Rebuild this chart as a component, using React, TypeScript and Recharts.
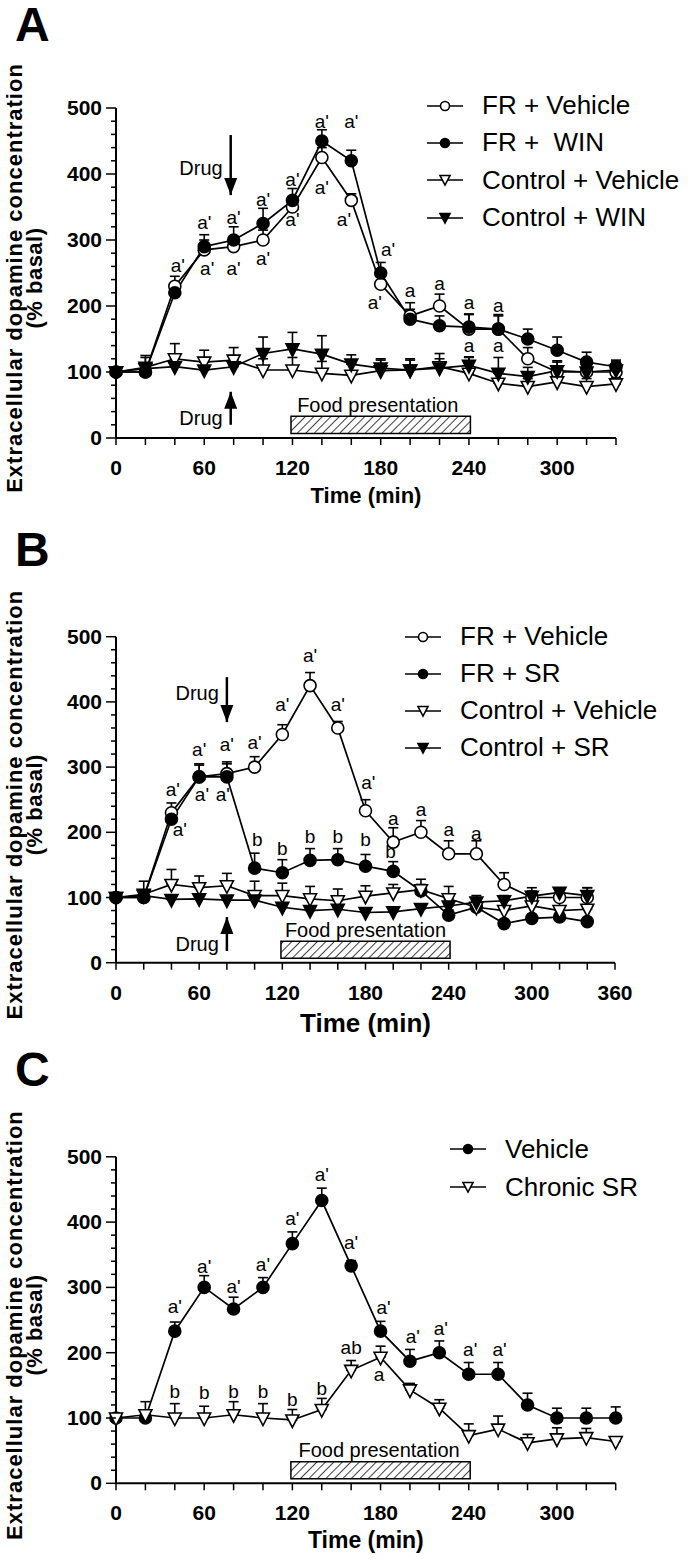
import React from 'react';
import {
  LineChart,
  Line,
  XAxis,
  YAxis,
  ErrorBar,
  ReferenceArea,
  ReferenceDot,
  ReferenceLine,
  Legend,
} from 'recharts';

const FONT = 'Arial, "Liberation Sans", Helvetica, sans-serif';

// sampling times (min)
const TIMES = [0, 20, 40, 60, 80, 100, 120, 140, 160, 180, 200, 220, 240, 260, 280, 300, 320, 340];
const X_TICKS_340 = [0, 20, 40, 60, 80, 100, 120, 140, 160, 180, 200, 220, 240, 260, 280, 300, 320, 340];
const X_TICKS_360 = [0, 20, 40, 60, 80, 100, 120, 140, 160, 180, 200, 220, 240, 260, 280, 300, 320, 340, 360];
const Y_TICKS = [0, 20, 40, 60, 80, 100, 120, 140, 160, 180, 200, 220, 240, 260, 280, 300, 320, 340, 360, 380, 400, 420, 440, 460, 480, 500];

// ---- panel A ----
const A_FR_VEH = [100, 100, 230, 285, 290, 300, 350, 425, 360, 233, 185, 200, 165, 165, 120, 100, 100, 100];
const A_FR_VEH_SEM = [4, 5, 15, 15, 15, 15, 15, 15, 10, 17, 20, 18, 22, 20, 17, 15, 10, 15];
const A_FR_WIN = [100, 100, 220, 290, 300, 325, 360, 450, 420, 250, 180, 170, 168, 165, 150, 133, 115, 108];
const A_FR_WIN_SEM = [5, 8, 10, 18, 20, 23, 18, 17, 16, 16, 15, 15, 20, 22, 15, 20, 15, 10];
const A_CTL_VEH = [100, 107, 120, 115, 118, 103, 103, 98, 95, 102, 103, 108, 98, 83, 78, 85, 78, 82];
const A_CTL_VEH_SEM = [5, 18, 23, 18, 19, 17, 19, 18, 17, 16, 17, 20, 24, 15, 12, 15, 12, 10];
const A_CTL_WIN = [100, 105, 108, 103, 108, 128, 135, 127, 112, 106, 103, 106, 110, 98, 93, 102, 100, 103];
const A_CTL_WIN_SEM = [5, 17, 12, 12, 12, 25, 25, 28, 14, 14, 15, 14, 13, 24, 14, 15, 10, 12];

const A_NOTES: [number, number, string][] = [
  [42, 261, "a'"], [60, 326, "a'"], [80, 333, "a'"], [100, 360, "a'"], [120, 391, "a'"],
  [140, 479, "a'"], [160, 479, "a'"], [62, 256, "a'"], [80, 256, "a'"], [100, 271, "a'"],
  [120, 330, "a'"], [140, 379, "a'"], [155, 330, "a'"], [185, 285, "a'"], [176, 205, "a'"],
  [200, 223, 'a'], [220, 233, 'a'], [240, 205, 'a'], [260, 200, 'a'], [240, 140, 'a'], [260, 140, 'a'],
];

// ---- panel B ----
const B_FR_VEH = [100, 100, 230, 285, 290, 300, 350, 425, 360, 233, 185, 200, 167, 167, 120, 100, 100, 100];
const B_FR_VEH_SEM = [4, 5, 15, 18, 18, 16, 15, 20, 10, 17, 22, 18, 20, 20, 18, 15, 12, 15];
const B_FR_SR = [100, 100, 220, 285, 285, 145, 138, 157, 158, 148, 140, 110, 73, 85, 60, 68, 70, 63];
const B_FR_SR_SEM = [5, 8, 12, 20, 20, 23, 20, 18, 17, 18, 15, 10, 8, 8, 6, 6, 6, 6];
const B_CTL_VEH = [100, 105, 120, 115, 118, 103, 103, 98, 95, 102, 107, 112, 98, 85, 80, 87, 80, 82];
const B_CTL_VEH_SEM = [5, 20, 23, 18, 19, 22, 19, 19, 18, 16, 13, 16, 19, 15, 20, 20, 18, 25];
const B_CTL_SR = [100, 103, 97, 98, 96, 96, 85, 80, 82, 77, 78, 83, 87, 93, 95, 102, 108, 103];
const B_CTL_SR_SEM = [4, 5, 5, 5, 5, 5, 5, 5, 5, 5, 5, 5, 8, 10, 8, 8, 6, 12];

const B_NOTES: [number, number, string][] = [
  [41, 265, "a'"], [46, 204, "a'"], [60, 326, "a'"], [62, 257, "a'"], [77, 257, "a'"],
  [80, 334, "a'"], [100, 337, "a'"], [120, 395, "a'"], [140, 470, "a'"], [160, 395, "a'"],
  [182, 275, "a'"], [200, 221, 'a'], [220, 234, 'a'], [240, 204, 'a'], [260, 198, 'a'],
  [102, 188, 'b'], [120, 175, 'b'], [140, 193, 'b'], [160, 193, 'b'], [180, 188, 'b'], [198, 170, 'b'],
];

// ---- panel C ----
const C_VEH = [100, 100, 233, 300, 267, 300, 367, 433, 333, 233, 187, 200, 167, 167, 120, 100, 100, 100];
const C_VEH_SEM = [4, 8, 14, 18, 18, 15, 18, 19, 8, 15, 18, 18, 18, 18, 18, 15, 15, 17];
const C_CHRONIC_SR = [100, 105, 100, 100, 105, 100, 97, 113, 173, 193, 143, 115, 73, 83, 62, 68, 70, 64];
const C_CHRONIC_SR_SEM = [4, 20, 22, 18, 20, 22, 16, 17, 15, 17, 10, 13, 18, 20, 13, 17, 14, 6];

const C_NOTES: [number, number, string][] = [
  [40, 270, "a'"], [60, 332, "a'"], [80, 301, "a'"], [100, 335, "a'"], [120, 404, "a'"],
  [140, 472, "a'"], [160, 368, "a'"], [182, 268, "a'"], [202, 224, "a'"], [221, 237, "a'"],
  [241, 204, "a'"], [261, 204, "a'"], [160, 207, 'ab'], [179, 166, 'a'],
  [40, 140, 'b'], [60, 138, 'b'], [80, 140, 'b'], [100, 140, 'b'], [120, 128, 'b'], [140, 145, 'b'],
];

type Series = {
  key: string;
  name: string;
  values: number[];
  sem: number[];
  shape: 'circle' | 'tri';
  filled: boolean;
};

type Arrow = { t: number; tip: number; tail: number; textV: number; down: boolean };

const buildRows = (series: Series[]) =>
  TIMES.map((t, i) => {
    const row: any = { t };
    series.forEach((s) => {
      row[s.key] = s.values[i];
      row[s.key + 'Err'] = [0, s.sem[i]];
    });
    return row;
  });

const Marker = ({ cx, cy, shape, filled, size }: any) => {
  const fill = filled ? '#000' : '#fff';
  if (shape === 'circle') {
    return <circle cx={cx} cy={cy} r={size} fill={fill} stroke="#000" strokeWidth={1.6} />;
  }
  const pts = `${cx - size - 0.5},${cy - size + 1} ${cx + size + 0.5},${cy - size + 1} ${cx},${cy + size + 1.5}`;
  return <polygon points={pts} fill={fill} stroke="#000" strokeWidth={1.6} strokeLinejoin="miter" />;
};

const makeDot = (s: Series) => (p: any) => {
  const { cx, cy, index } = p;
  if (cx == null || cy == null) return <g key={`d${index}`} />;
  return (
    <g key={`d${index}`}>
      <Marker cx={cx} cy={cy} shape={s.shape} filled={s.filled} size={6} />
    </g>
  );
};

const YTick = (props: any) => {
  const { x, y, payload } = props;
  const major = payload.value % 100 === 0;
  return (
    <g>
      <line x1={x - (major ? 10 : 5)} x2={x} y1={y} y2={y} stroke="#000" strokeWidth={1.5} />
      {major && (
        <text x={x - 14} y={y + 7} textAnchor="end" fontSize={21} fontWeight="bold" fontFamily={FONT} fill="#000">
          {payload.value}
        </text>
      )}
    </g>
  );
};

const XTick = (props: any) => {
  const { x, y, payload } = props;
  const major = payload.value % 60 === 0;
  return (
    <g>
      <line x1={x} x2={x} y1={y} y2={y + 7} stroke="#000" strokeWidth={1.5} />
      {major && (
        <text x={x} y={y + 37} textAnchor="middle" fontSize={21} fontWeight="bold" fontFamily={FONT} fill="#000">
          {payload.value}
        </text>
      )}
    </g>
  );
};

const LegendBox = ({ items, rowH }: { items: Series[]; rowH: number }) => (
  <div style={{ fontFamily: FONT, fontSize: 26, color: '#000' }}>
    {items.map((s) => (
      <div key={s.key} style={{ display: 'flex', alignItems: 'center', height: rowH, whiteSpace: 'pre' }}>
        <svg width={36} height={16} style={{ marginRight: 19, overflow: 'visible' }}>
          <line x1={0} x2={36} y1={8} y2={8} stroke="#000" strokeWidth={1.5} />
          <Marker cx={18} cy={s.shape === 'tri' ? 7 : 8} shape={s.shape} filled={s.filled} size={4.5} />
        </svg>
        <span>{s.name}</span>
      </div>
    ))}
  </div>
);

type PanelProps = {
  letter: string;
  top: number;
  plotTop: number;
  plotBottom: number;
  right: number;
  xMax: number;
  xTicks: number[];
  series: Series[];
  notes: [number, number, string][];
  arrows: Arrow[];
  foodText: number;
  foodV: number;
  legendLeft: number;
  legendTop: number;
  rowH: number;
  titleSize: number;
  titleOffset: number;
};

const H = 520;
const AXIS_H = 60;

function Panel(props: PanelProps) {
  const { letter, top, plotTop, plotBottom, right, xMax, xTicks, series, notes, arrows } = props;
  const rows = buildRows(series);
  return (
    <div style={{ position: 'absolute', left: 0, top, width: 694, height: H }}>
      <div
        style={{
          position: 'absolute',
          left: 15,
          top: letter === 'A' ? 1 : 6,
          fontFamily: FONT,
          fontWeight: 'bold',
          fontSize: 48,
          lineHeight: '48px',
        }}
      >
        {letter}
      </div>
      <LineChart
        width={694}
        height={H}
        data={rows}
        margin={{ top: plotTop, right, bottom: H - plotBottom - AXIS_H, left: 0 }}
      >
        <XAxis
          type="number"
          dataKey="t"
          domain={[0, xMax]}
          ticks={xTicks}
          interval={0}
          tickSize={0}
          tickMargin={0}
          tick={<XTick />}
          axisLine={{ stroke: '#000', strokeWidth: 2 }}
          height={AXIS_H}
          label={(p: any) => {
            const vb = p.viewBox;
            return (
              <text
                x={vb.x + vb.width / 2}
                y={vb.y + props.titleOffset}
                textAnchor="middle"
                fontSize={props.titleSize}
                fontWeight="bold"
                fontFamily={FONT}
                fill="#000"
              >
                Time (min)
              </text>
            );
          }}
        />
        <YAxis
          type="number"
          domain={[0, 500]}
          ticks={Y_TICKS}
          interval={0}
          width={116}
          tickSize={0}
          tickMargin={0}
          tick={<YTick />}
          axisLine={{ stroke: '#000', strokeWidth: 2 }}
          label={(p: any) => {
            const vb = p.viewBox;
            const cy = vb.y + vb.height / 2 + 5;
            return (
              <g fontFamily={FONT} fontWeight="bold" fontSize={22} fill="#000">
                <text x={22} y={cy} textAnchor="middle" letterSpacing={1} transform={`rotate(-90, 22, ${cy})`}>
                  Extracellular dopamine concentration
                </text>
                <text x={42} y={cy} textAnchor="middle" letterSpacing={0.5} transform={`rotate(-90, 42, ${cy})`}>
                  (% basal)
                </text>
              </g>
            );
          }}
        />
        <ReferenceArea
          x1={119}
          x2={241}
          y1={7}
          y2={33}
          fill="url(#hatch)"
          fillOpacity={1}
          stroke="#000"
          strokeWidth={1.5}
        />
        <ReferenceDot
          x={props.foodText}
          y={props.foodV}
          r={0}
          shape={(p: any) => (
            <text x={p.cx} y={p.cy} textAnchor="middle" fontSize={20} fontFamily={FONT} fill="#000">
              Food presentation
            </text>
          )}
        />
        {arrows.map((a, i) => (
          <ReferenceLine
            key={`al${i}`}
            segment={[
              { x: a.t, y: a.tail },
              { x: a.t, y: a.tip },
            ]}
            stroke="#000"
            strokeWidth={2.5}
          />
        ))}
        {arrows.map((a, i) => (
          <ReferenceDot
            key={`ah${i}`}
            x={a.t}
            y={a.tip}
            r={0}
            shape={(p: any) => {
              const d = a.down ? -1 : 1;
              return (
                <polygon
                  points={`${p.cx - 6.5},${p.cy + d * 17} ${p.cx + 6.5},${p.cy + d * 17} ${p.cx},${p.cy}`}
                  fill="#000"
                />
              );
            }}
          />
        ))}
        {arrows.map((a, i) => (
          <ReferenceDot
            key={`at${i}`}
            x={a.t}
            y={a.textV}
            r={0}
            shape={(p: any) => (
              <text x={p.cx - 8} y={p.cy} textAnchor="end" fontSize={20} fontFamily={FONT} fill="#000">
                Drug
              </text>
            )}
          />
        ))}
        {series.map((s) => (
          <Line
            key={s.key}
            type="linear"
            dataKey={s.key}
            name={s.name}
            stroke="#000"
            strokeWidth={1.7}
            dot={makeDot(s)}
            activeDot={false}
            isAnimationActive={false}
          >
            <ErrorBar dataKey={s.key + 'Err'} direction="y" width={5} stroke="#000" strokeWidth={1.6} />
          </Line>
        ))}
        {notes.map(([t, v, txt], i) => (
          <ReferenceDot
            key={`n${i}`}
            x={t}
            y={v}
            r={0}
            shape={(p: any) => (
              <text
                x={p.cx}
                y={p.cy + 6}
                textAnchor="middle"
                fontSize={19}
                fontFamily={FONT}
                fill="#000"
              >
                {txt}
              </text>
            )}
          />
        ))}
        <Legend
          layout="vertical"
          align="center"
          verticalAlign="middle"
          wrapperStyle={{ left: props.legendLeft, top: props.legendTop, width: 280 }}
          content={() => <LegendBox items={series} rowH={props.rowH} />}
        />
      </LineChart>
    </div>
  );
}

const SERIES_A: Series[] = [
  { key: 'frVeh', name: 'FR + Vehicle', values: A_FR_VEH, sem: A_FR_VEH_SEM, shape: 'circle', filled: false },
  { key: 'frWin', name: 'FR +  WIN', values: A_FR_WIN, sem: A_FR_WIN_SEM, shape: 'circle', filled: true },
  { key: 'ctlVeh', name: 'Control + Vehicle', values: A_CTL_VEH, sem: A_CTL_VEH_SEM, shape: 'tri', filled: false },
  { key: 'ctlWin', name: 'Control + WIN', values: A_CTL_WIN, sem: A_CTL_WIN_SEM, shape: 'tri', filled: true },
];

const SERIES_B: Series[] = [
  { key: 'frVeh', name: 'FR + Vehicle', values: B_FR_VEH, sem: B_FR_VEH_SEM, shape: 'circle', filled: false },
  { key: 'frSr', name: 'FR + SR', values: B_FR_SR, sem: B_FR_SR_SEM, shape: 'circle', filled: true },
  { key: 'ctlVeh', name: 'Control + Vehicle', values: B_CTL_VEH, sem: B_CTL_VEH_SEM, shape: 'tri', filled: false },
  { key: 'ctlSr', name: 'Control + SR', values: B_CTL_SR, sem: B_CTL_SR_SEM, shape: 'tri', filled: true },
];

const SERIES_C: Series[] = [
  { key: 'veh', name: 'Vehicle', values: C_VEH, sem: C_VEH_SEM, shape: 'circle', filled: true },
  { key: 'chr', name: 'Chronic SR', values: C_CHRONIC_SR, sem: C_CHRONIC_SR_SEM, shape: 'tri', filled: false },
];

const ARROWS_A: Arrow[] = [
  { t: 78, tip: 368, tail: 459, textV: 398, down: true },
  { t: 78, tip: 70, tail: 20, textV: 20, down: false },
];
const ARROWS_B: Arrow[] = [
  { t: 80, tip: 369, tail: 438, textV: 403, down: true },
  { t: 80, tip: 70, tail: 18, textV: 18, down: false },
];

export default function App() {
  return (
    <div style={{ position: 'absolute', left: 0, top: 0, width: 694, height: 1560, background: '#fff' }}>
      <svg width={0} height={0} style={{ position: 'absolute' }}>
        <defs>
          <pattern id="hatch" patternUnits="userSpaceOnUse" width={6} height={6} patternTransform="rotate(45)">
            <line x1={0} y1={0} x2={0} y2={6} stroke="#000" strokeWidth={1.5} />
          </pattern>
        </defs>
      </svg>
      <Panel
        letter="A"
        top={0}
        plotTop={108}
        plotBottom={438}
        right={78}
        xMax={340}
        xTicks={X_TICKS_340}
        series={SERIES_A}
        notes={A_NOTES}
        arrows={ARROWS_A}
        foodText={178}
        foodV={40}
        legendLeft={427}
        legendTop={87}
        rowH={37.3}
        titleSize={22}
        titleOffset={65}
      />
      <Panel
        letter="B"
        top={520}
        plotTop={116.7}
        plotBottom={442.7}
        right={79}
        xMax={360}
        xTicks={X_TICKS_360}
        series={SERIES_B}
        notes={B_NOTES}
        arrows={ARROWS_B}
        foodText={180}
        foodV={39}
        legendLeft={405}
        legendTop={98}
        rowH={37}
        titleSize={26}
        titleOffset={69}
      />
      <Panel
        letter="C"
        top={1040}
        plotTop={116.8}
        plotBottom={443.3}
        right={78.3}
        xMax={340}
        xTicks={X_TICKS_340}
        series={SERIES_C}
        notes={C_NOTES}
        arrows={[]}
        foodText={179}
        foodV={40.8}
        legendLeft={450}
        legendTop={90}
        rowH={38}
        titleSize={23}
        titleOffset={65}
      />
    </div>
  );
}
